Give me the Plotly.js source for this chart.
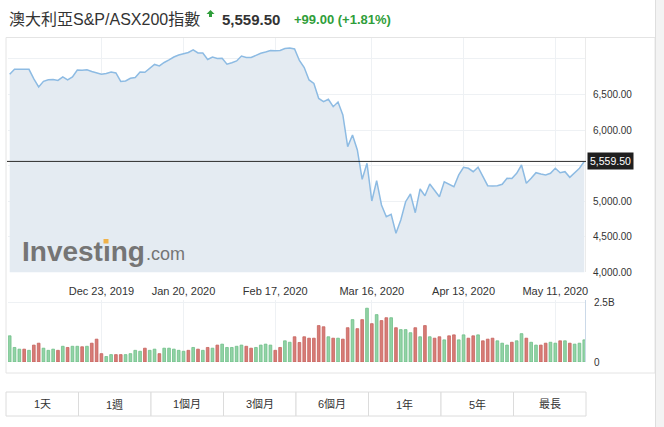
<!DOCTYPE html>
<html>
<head>
<meta charset="utf-8">
<script src="https://cdn.plot.ly/plotly-3.0.1.min.js"></script>
<style>
html,body{margin:0;padding:0;background:#fff;}
#chart{width:664px;height:427px;}
</style>
</head>
<body>
<div id="chart"></div>
<script>
// ---------- DATA ----------
const chartTitle = '澳大利亞S&P/ASX200指數';
const lastPriceText = '5,559.50';
const changeText = '+99.00 (+1.81%)';

const dates = [
 '2019-11-26','2019-11-27','2019-11-28','2019-11-29',
 '2019-12-02','2019-12-03','2019-12-04','2019-12-05','2019-12-06','2019-12-09','2019-12-10','2019-12-11','2019-12-12','2019-12-13',
 '2019-12-16','2019-12-17','2019-12-18','2019-12-19','2019-12-20','2019-12-23','2019-12-24','2019-12-27','2019-12-30','2019-12-31',
 '2020-01-02','2020-01-03','2020-01-06','2020-01-07','2020-01-08','2020-01-09','2020-01-10','2020-01-13','2020-01-14','2020-01-15',
 '2020-01-16','2020-01-17','2020-01-20','2020-01-21','2020-01-22','2020-01-23','2020-01-24','2020-01-28','2020-01-29','2020-01-30','2020-01-31',
 '2020-02-03','2020-02-04','2020-02-05','2020-02-06','2020-02-07','2020-02-10','2020-02-11','2020-02-12','2020-02-13','2020-02-14',
 '2020-02-17','2020-02-18','2020-02-19','2020-02-20','2020-02-21','2020-02-24','2020-02-25','2020-02-26','2020-02-27','2020-02-28',
 '2020-03-02','2020-03-03','2020-03-04','2020-03-05','2020-03-06','2020-03-09','2020-03-10','2020-03-11','2020-03-12','2020-03-13',
 '2020-03-16','2020-03-17','2020-03-18','2020-03-19','2020-03-20','2020-03-23','2020-03-24','2020-03-25','2020-03-26','2020-03-27',
 '2020-03-30','2020-03-31','2020-04-01','2020-04-02','2020-04-03','2020-04-06','2020-04-07','2020-04-08','2020-04-09',
 '2020-04-14','2020-04-15','2020-04-16','2020-04-17','2020-04-20','2020-04-21','2020-04-22','2020-04-23','2020-04-24',
 '2020-04-27','2020-04-28','2020-04-29','2020-04-30','2020-05-01','2020-05-04','2020-05-05','2020-05-06','2020-05-07','2020-05-08',
 '2020-05-11','2020-05-12','2020-05-13','2020-05-14','2020-05-15','2020-05-18','2020-05-19'
];

const closes = [
 6785,6855,6855,6852,6855,6719,6606,6686,6709,6712,
 6698,6747,6705,6747,6845,6840,6848,6824,6803,6785,
 6796,6817,6803,6684,6691,6729,6740,6817,6812,6873,
 6923,6902,6951,6986,7028,7056,7070,7092,7127,7084,
 7084,6993,7028,7007,7010,6926,6948,6972,7042,7021,
 7021,7056,7080,7099,7120,7117,7120,7148,7155,7141,
 6979,6880,6705,6655,6445,6399,6433,6329,6395,6212,
 5767,5931,5720,5308,5533,5003,5288,4947,4782,4816,
 4549,4736,4993,5101,4838,5172,5077,5242,5158,5063,
 5274,5242,5204,5369,5477,5463,5415,5477,5345,5218,
 5214,5218,5238,5322,5318,5392,5509,5252,5322,5401,
 5383,5369,5392,5463,5401,5415,5336,5401,5463,5559.5
];

// volume in billions
const volumes = [
 1.10,0.61,0.54,0.54,0.49,0.71,0.79,0.58,0.49,0.54,
 0.49,0.66,0.61,0.66,0.66,0.64,0.66,0.79,0.96,0.35,
 0.23,0.31,0.31,0.31,0.31,0.35,0.49,0.45,0.58,0.49,
 0.54,0.35,0.58,0.58,0.54,0.49,0.45,0.49,0.61,0.54,
 0.49,0.61,0.58,0.71,0.75,0.61,0.61,0.66,0.71,0.66,
 0.58,0.61,0.71,0.75,0.71,0.49,0.61,0.89,0.83,1.06,
 0.82,1.06,1.00,1.00,1.53,1.48,1.06,1.00,1.00,0.96,
 1.44,1.78,1.40,1.78,2.26,1.61,1.99,1.74,1.86,1.86,
 1.44,1.36,1.36,1.23,1.44,1.06,1.53,1.06,1.00,1.06,
 0.93,1.10,1.14,0.93,1.14,1.00,1.10,1.14,0.89,0.96,
 1.00,0.89,0.79,0.71,0.83,0.89,1.19,1.00,0.83,0.71,
 0.71,0.79,0.83,0.79,0.89,0.89,0.79,0.75,0.79,0.93
];

// G = up (green), R = down (red)
const volDir = [
 'G','G','G','R','G','R','R','G','G','G',
 'R','G','R','G','G','R','G','R','R','R',
 'G','G','R','R','G','G','G','G','R','G',
 'G','R','G','G','G','G','G','R','G','R',
 'G','R','G','R','G','G','G','G','G','R',
 'R','G','G','G','G','R','R','G','G','R',
 'R','R','R','R','R','R','G','R','G','R',
 'R','G','R','R','G','R','G','R','R','G',
 'R','G','G','G','R','G','R','G','R','R',
 'G','R','R','G','G','R','R','G','R','R',
 'R','G','G','G','R','G','G','R','G','G',
 'R','R','G','G','R','G','R','G','G','G'
];

const tickDates = ['2019-12-23','2020-01-20','2020-02-17','2020-03-16','2020-04-14','2020-05-11'];
const tickLabels = ['Dec 23, 2019','Jan 20, 2020','Feb 17, 2020','Mar 16, 2020','Apr 13, 2020','May 11, 2020'];

const priceTicks = [4000,4500,5000,5500,6000,6500,7000];
const priceTickText = ['4,000.00','4,500.00','5,000.00','','6,000.00','6,500.00',''];
const lastPrice = 5559.5;

const volTicks = [0, 2.5];
const volTickText = ['0','2.5B'];

const buttons = ['1天','1週','1個月','3個月','6個月','1年','5年','最長'];

// ---------- LAYOUT HELPERS ----------
const W = 664, H = 427;
const px = x => x / W;
const py = y => 1 - y / H;
const FONT = 'Liberation Sans, Arial, Noto Sans CJK TC, sans-serif';
const GREEN = '#2f9e3a';
const GRID = '#eef1f4';

const upFill = '#92d3a6', upLine = '#6fbf88';
const dnFill = '#d77c77', dnLine = '#c7635e';

const priceTrace = {
  type: 'scatter', mode: 'lines', x: dates, y: closes,
  xaxis: 'x', yaxis: 'y',
  line: {color: '#8dbbe3', width: 1.5},
  fill: 'tozeroy', fillcolor: '#e4ebf2',
  hoverinfo: 'skip'
};

const volTrace = {
  type: 'bar', x: dates, y: volumes, xaxis: 'x2', yaxis: 'y2',
  width: 0.56,
  marker: {
    color: volDir.map(d => d === 'G' ? upFill : dnFill),
    line: {color: volDir.map(d => d === 'G' ? upLine : dnLine), width: 0.8}
  },
  hoverinfo: 'skip'
};

const shapes = [];
const annotations = [];

// chart frame
shapes.push({type:'rect', xref:'paper', yref:'paper', x0:px(6), x1:px(655), y0:py(373), y1:py(37.5),
  line:{color:'#e4e4e4', width:1}, fillcolor:'rgba(0,0,0,0)', layer:'below'});
// right scrollbar strip
shapes.push({type:'rect', xref:'paper', yref:'paper', x0:px(655.5), x1:px(664), y0:0, y1:1,
  line:{width:0}, fillcolor:'#f3f3f3', layer:'below'});
shapes.push({type:'line', xref:'paper', yref:'paper', x0:px(655.5), x1:px(655.5), y0:0, y1:1,
  line:{color:'#dedede', width:1}});

// last price line
shapes.push({type:'line', xref:'paper', yref:'y', x0:px(7), x1:px(586), y0:lastPrice, y1:lastPrice,
  line:{color:'#2b2b2b', width:1}});

// green up arrow icon in header
shapes.push({type:'path', xref:'paper', yref:'paper',
  path: `M ${px(210.5)} ${py(10)} L ${px(214.5)} ${py(14)} L ${px(212)} ${py(14)} L ${px(212)} ${py(17)} L ${px(209)} ${py(17)} L ${px(209)} ${py(14)} L ${px(206.5)} ${py(14)} Z`,
  fillcolor: GREEN, line:{width:0}});

// orange dot of the watermark "i"
shapes.push({type:'rect', xref:'paper', yref:'paper', x0:px(103.5), x1:px(108.5), y0:py(243.5), y1:py(239),
  fillcolor:'#f0b24a', line:{width:0}});

// header texts
annotations.push({xref:'paper', yref:'paper', x:px(7), y:py(19.5), xanchor:'left', yanchor:'middle',
  text: chartTitle, showarrow:false, font:{family:FONT, size:16, color:'#333'}});
annotations.push({xref:'paper', yref:'paper', x:px(220), y:py(19.5), xanchor:'left', yanchor:'middle',
  text: '<b>' + lastPriceText + '</b>', showarrow:false, font:{family:FONT, size:15, color:'#333'}});
annotations.push({xref:'paper', yref:'paper', x:px(292), y:py(19.5), xanchor:'left', yanchor:'middle',
  text: '<b>' + changeText + '</b>', showarrow:false, font:{family:FONT, size:13, color:GREEN}});

// watermark
annotations.push({xref:'paper', yref:'paper', x:px(20), y:py(251), xanchor:'left', yanchor:'middle',
  text: '<b>Invest\u0131ng</b>', showarrow:false, font:{family:FONT, size:28, color:'#757575'}});
annotations.push({xref:'paper', yref:'paper', x:px(144), y:py(254), xanchor:'left', yanchor:'middle',
  text: '.com', showarrow:false, font:{family:FONT, size:18, color:'#757575'}});

// last price label box
annotations.push({xref:'paper', yref:'y', x:px(587), y:lastPrice, xanchor:'left', yanchor:'middle',
  text: lastPriceText, showarrow:false, bgcolor:'#1f1f1f', borderpad:2,
  font:{family:FONT, size:10.5, color:'#ffffff'}});

// period buttons
const bx0 = 6, bw = 72.5, by0 = 392, by1 = 416;
buttons.forEach((b, i) => {
  shapes.push({type:'rect', xref:'paper', yref:'paper', x0:px(bx0 + i*bw), x1:px(bx0 + (i+1)*bw),
    y0:py(by1), y1:py(by0), line:{color:'#dcdcdc', width:1}, fillcolor:'#ffffff'});
  annotations.push({xref:'paper', yref:'paper', x:px(bx0 + (i+0.5)*bw), y:py((by0+by1)/2),
    xanchor:'center', yanchor:'middle', text:b, showarrow:false,
    font:{family:FONT, size:11, color:'#333'}});
});

const layout = {
  width: W, height: H,
  margin: {l:0, r:0, t:0, b:0, pad:0},
  paper_bgcolor: '#ffffff', plot_bgcolor: '#ffffff',
  showlegend: false,
  font: {family: FONT, color: '#333'},
  bargap: 0,
  xaxis: {
    type:'category', domain:[px(8), px(585)], anchor:'y',
    range:[-0.35, 119.15], tickvals: tickDates, ticktext: tickLabels,
    showgrid:true, gridcolor:GRID, gridwidth:1, zeroline:false, showline:false,
    ticks:'outside', ticklen:8, tickcolor:'rgba(0,0,0,0)',
    tickfont:{size:11, color:'#333'}, fixedrange:true
  },
  xaxis2: {
    type:'category', domain:[px(8), px(585)], anchor:'y2', matches:'x',
    range:[-0.35, 119.15], tickvals: tickDates,
    showgrid:true, gridcolor:GRID, gridwidth:1, zeroline:false, showline:false,
    showticklabels:false, ticks:'', fixedrange:true
  },
  yaxis: {
    domain:[py(272.3), py(38)], anchor:'x', side:'right',
    range:[4000, 7295], tickvals: priceTicks, ticktext: priceTickText,
    showgrid:true, gridcolor:GRID, gridwidth:1, zeroline:false,
    showline:true, linecolor:'#ebebeb', linewidth:1,
    ticks:'outside', ticklen:5, tickcolor:'rgba(0,0,0,0)',
    tickfont:{size:10, color:'#333'}, fixedrange:true
  },
  yaxis2: {
    domain:[py(362), py(300)], anchor:'x2', side:'right',
    range:[0, 2.605], tickvals: volTicks, ticktext: volTickText,
    showgrid:true, gridcolor:GRID, gridwidth:1, zeroline:false,
    showline:true, linecolor:'#cbd9e8', linewidth:1,
    ticks:'outside', ticklen:6, tickcolor:'rgba(0,0,0,0)',
    tickfont:{size:10, color:'#333'}, fixedrange:true
  },
  shapes: shapes,
  annotations: annotations
};

Plotly.newPlot('chart', [priceTrace, volTrace], layout, {displayModeBar:false, staticPlot:true});
</script>
</body>
</html>
